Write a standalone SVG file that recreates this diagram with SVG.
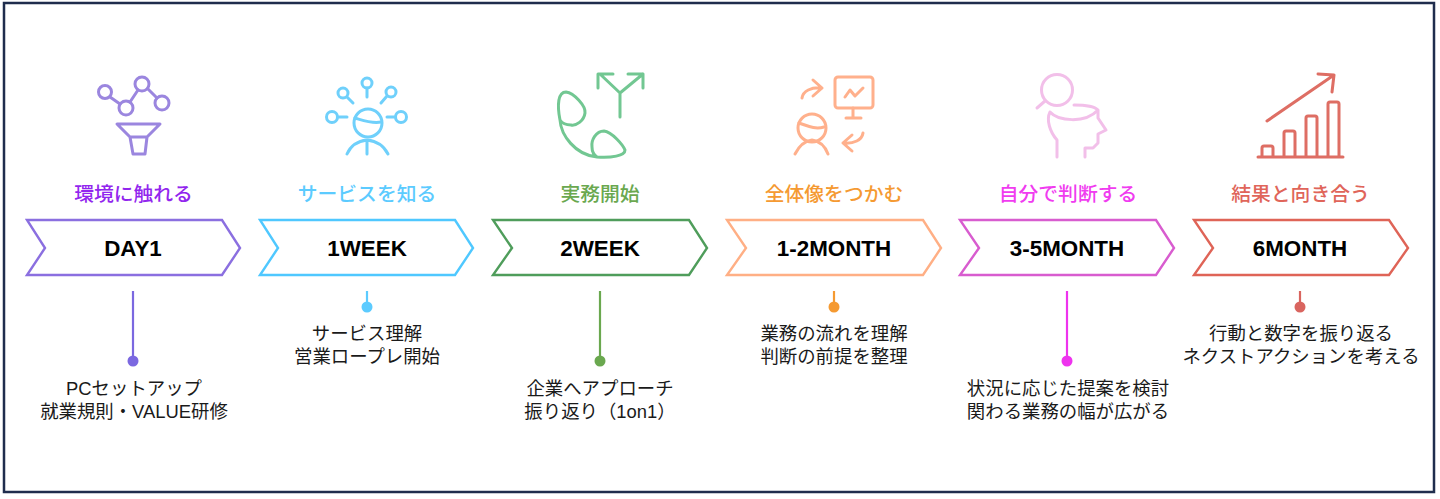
<svg xmlns="http://www.w3.org/2000/svg" width="1440" height="499" viewBox="0 0 1440 499">
<style>
.ic{fill:none;stroke-width:3;stroke-linecap:round;stroke-linejoin:round}
.ch{fill:#fff;stroke-width:2.4;stroke-linejoin:miter}
.hd{font-family:"Noto Sans CJK JP",sans-serif;font-size:19.8px;font-weight:500;text-anchor:middle}
.lb{font-family:"Liberation Sans",Arial,sans-serif;font-size:22.4px;font-weight:700;text-anchor:middle;fill:#000}
.tx{font-family:"Liberation Sans","Noto Sans CJK JP",sans-serif;font-size:18.4px;text-anchor:middle;fill:#1a1a1a}
.cn{stroke-width:2.2}
</style>
<rect width="1440" height="499" fill="#fff"/>
<rect id="frame" x="4" y="3" width="1430" height="489" fill="#fff" stroke="#1f2d4d" stroke-width="2.500"/>
<g id="connectors">
<line class="cn" x1="133" y1="291" x2="133" y2="361" stroke="#7b68e0"/><circle cx="133" cy="361" r="5.500" fill="#7b68e0"/>
<line class="cn" x1="367" y1="291" x2="367" y2="307" stroke="#5ccbff"/><circle cx="367" cy="307" r="5.500" fill="#5ccbff"/>
<line class="cn" x1="600" y1="291" x2="600" y2="361" stroke="#6aa84f"/><circle cx="600" cy="361" r="5.500" fill="#6aa84f"/>
<line class="cn" x1="834" y1="291" x2="834" y2="307" stroke="#f59a32"/><circle cx="834" cy="307" r="5.500" fill="#f59a32"/>
<line class="cn" x1="1067" y1="291" x2="1067" y2="361" stroke="#ee33ee"/><circle cx="1067" cy="361" r="5.500" fill="#ee33ee"/>
<line class="cn" x1="1300" y1="291" x2="1300" y2="307" stroke="#d9655f"/><circle cx="1300" cy="307" r="5.500" fill="#d9655f"/>
</g>
<g id="step-day1">
<g class="ic" stroke="#9b86df"><circle cx="105" cy="92" r="6.500"/><circle cx="126" cy="108" r="7"/><circle cx="142" cy="84" r="7"/><circle cx="162" cy="103" r="7"/><path d="M110 97L120 104M130 102L138 90M148 89L157 98M117 124H160L147 137H130ZM130 137L133 154H145L147 137"/></g>
<text class="hd" x="133.500" y="201" fill="#9226ee">環境に触れる</text>
<path class="ch" stroke="#8b6fe0" d="M27 220H222L240 248L222 275H27L45 248Z"/>
<text class="lb" x="133" y="256">DAY1</text>
<text class="tx" x="134" y="395">PCセットアップ</text><text class="tx" x="134" y="418">就業規則・VALUE研修</text>
</g>
<g id="step-1week">
<g class="ic" stroke="#6fd0fb"><circle cx="368" cy="123" r="14"/><path d="M355 118C362 120 372 124 381 122M347 154C351 145 358 141 367 140C376 141 384 146 388 154M367 140V154"/><circle cx="367" cy="83" r="5"/><path d="M367 88V97"/><circle cx="343" cy="93" r="5"/><path d="M347 97L353 103"/><circle cx="391" cy="92" r="5"/><path d="M387 96L381 103"/><circle cx="332" cy="117" r="5.500"/><path d="M338 117H347"/><circle cx="401" cy="117" r="5.500"/><path d="M395 117H387"/></g>
<text class="hd" x="367" y="201" fill="#5ccbff">サービスを知る</text>
<path class="ch" stroke="#4fc8ff" d="M260 220H455L473 248L455 275H260L278 248Z"/>
<text class="lb" x="367" y="256">1WEEK</text>
<text class="tx" x="367" y="340">サービス理解</text><text class="tx" x="367" y="363">営業ロープレ開始</text>
</g>
<g id="step-2week">
<g class="ic" stroke="#72c792"><path d="M560 120C557 105 558 92 566 92C574 93 586 106 585 113C584 121 576 126 571 125C566 125 562 123 560 120C561 135 575 155 597 157C611 158 625 156 625 150C623 145 612 132 604 131C596 131 591 140 592 147C592 152 594 155 597 157"/><path d="M620 117V93L601 75M598 88V74H613M620 93L643 74M628 74H643V88"/></g>
<text class="hd" x="600" y="201" fill="#6aa84f">実務開始</text>
<path class="ch" stroke="#4f9d5b" d="M493 220H689L707 248L689 275H493L512 248Z"/>
<text class="lb" x="600" y="256">2WEEK</text>
<text class="tx" x="600" y="395">企業へアプローチ</text><text class="tx" x="600" y="418">振り返り（1on1）</text>
</g>
<g id="step-1-2month">
<g class="ic" stroke="#ffb08c"><rect x="835" y="77" width="38" height="31" rx="3"/><path d="M853 108V118M846 118H861M845 97L850 90L855 96L863 88M802 98C803 91 811 87 822 88M813 80L822 88L813 96"/><circle cx="812" cy="128" r="14"/><path d="M799 123C806 125 814 130 824 127M795 154C799 146 805 141 812 140C819 141 825 146 828 154M863 133C862 140 854 144 843 143M852 135L843 143L852 151"/></g>
<text class="hd" x="834" y="201" fill="#f59a32">全体像をつかむ</text>
<path class="ch" stroke="#ffaf85" d="M727 220H923L941 248L923 275H727L746 248Z"/>
<text class="lb" x="834" y="256">1-2MONTH</text>
<text class="tx" x="834" y="340">業務の流れを理解</text><text class="tx" x="834" y="363">判断の前提を整理</text>
</g>
<g id="step-3-5month">
<g class="ic" stroke="#f2bfe9"><circle cx="1057" cy="90" r="15.500"/><path d="M1045 101L1037 108M1050 112C1058 121 1085 124 1098 110C1094 106 1084 105 1074 105M1050 112C1046 120 1050 132 1057 140V157M1098 110V118L1106 130L1098 134V143L1093 148H1085V157"/></g>
<text class="hd" x="1068" y="201" fill="#f03cf0">自分で判断する</text>
<path class="ch" stroke="#d85ccf" d="M960 220H1156L1174 248L1156 275H960L979 248Z"/>
<text class="lb" x="1067" y="256">3-5MONTH</text>
<text class="tx" x="1068" y="395">状況に応じた提案を検討</text><text class="tx" x="1068" y="418">関わる業務の幅が広がる</text>
</g>
<g id="step-6month">
<g class="ic" stroke="#de6e64"><path d="M1267 121L1334 75M1318 74L1334 75L1332 92M1258 157H1343M1262 157V148Q1262 146 1264 146H1271Q1273 146 1273 148V157M1284 157V133Q1284 131 1286 131H1293Q1295 131 1295 133V157M1306 157V118Q1306 116 1308 116H1315Q1317 116 1317 118V157M1328 157V104Q1328 102 1330 102H1337Q1339 102 1339 104V157"/></g>
<text class="hd" x="1300.500" y="201" fill="#e0655a">結果と向き合う</text>
<path class="ch" stroke="#df6457" d="M1194 220H1389L1408 248L1389 275H1194L1213 248Z"/>
<text class="lb" x="1300" y="256">6MONTH</text>
<text class="tx" x="1301" y="340">行動と数字を振り返る</text><text class="tx" x="1301" y="363">ネクストアクションを考える</text>
</g>
</svg>
